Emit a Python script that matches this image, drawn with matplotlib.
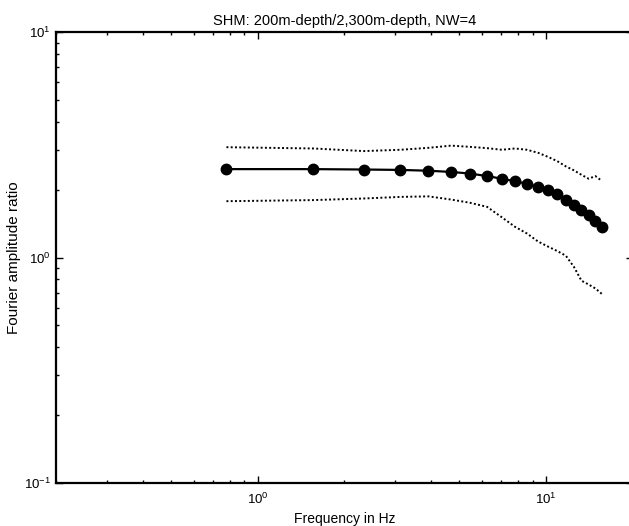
import numpy as np
import matplotlib
matplotlib.use("Agg")
import matplotlib.pyplot as plt

plt.rcParams['font.family'] = ['Liberation Sans', 'DejaVu Sans']
plt.rcParams['mathtext.fontset'] = 'custom'
plt.rcParams['mathtext.rm'] = 'Liberation Sans'
plt.rcParams['mathtext.it'] = 'Liberation Sans'

# frequencies (Hz) of the spectral estimates
freq = [0.78, 1.56, 2.34, 3.13, 3.91, 4.69, 5.47, 6.25, 7.03, 7.81,
        8.59, 9.38, 10.16, 10.94, 11.72, 12.50, 13.28, 14.06, 14.84, 15.63]
# mean Fourier amplitude ratio
ratio = [2.47, 2.47, 2.46, 2.45, 2.43, 2.40, 2.36, 2.30, 2.24, 2.18,
         2.13, 2.06, 1.99, 1.91, 1.81, 1.72, 1.62, 1.54, 1.45, 1.37]
# upper / lower bounds (dotted)
upper = [3.09, 3.05, 2.97, 3.01, 3.07, 3.14, 3.10, 3.06, 3.01, 3.05,
         3.01, 2.92, 2.80, 2.68, 2.54, 2.44, 2.33, 2.24, 2.30, 2.19]
lower = [1.78, 1.80, 1.83, 1.86, 1.87, 1.81, 1.75, 1.68, 1.51, 1.37,
         1.28, 1.18, 1.12, 1.07, 1.02, 0.91, 0.79, 0.76, 0.73, 0.69]

fig = plt.figure(figsize=(6.29, 5.26), dpi=100)
ax = fig.add_axes([0.089, 0.0817, 0.917, 0.857])

ax.plot(freq, ratio, color='black', lw=1.6, marker='o', ms=7.5)
ax.plot(freq, upper, color='black', lw=1.4, ls=(0, (1, 1.2)))
ax.plot(freq, lower, color='black', lw=1.4, ls=(0, (1, 1.2)))

ax.set_xscale('log')
ax.set_yscale('log')
ax.set_xlim(0.2, 20)
ax.set_ylim(0.1, 10)

for s in ax.spines.values():
    s.set_linewidth(1.6)
ax.tick_params(which='both', direction='in', top=True, right=True,
               labelsize=9.5, width=1.0)
ax.tick_params(which='major', length=5)
ax.tick_params(which='minor', length=2.5)
ax.tick_params(axis='x', pad=6)

ax.set_title('SHM: 200m-depth/2,300m-depth, NW=4', fontsize=10.5, pad=5)
ax.set_xlabel('Frequency in Hz', fontsize=10, labelpad=4)
ax.set_ylabel('Fourier amplitude ratio', fontsize=11, labelpad=2)

fig.savefig('out.png', dpi=100)
